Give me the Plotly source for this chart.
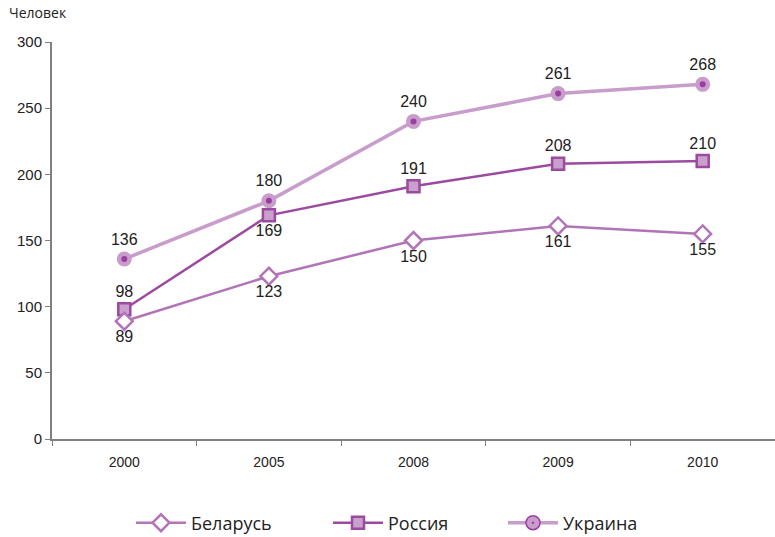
import plotly.graph_objects as go

years = ["2000", "2005", "2008", "2009", "2010"]
belarus = [89, 123, 150, 161, 155]
russia = [98, 169, 191, 208, 210]
ukraine = [136, 180, 240, 261, 268]
y_ticks = [0, 50, 100, 150, 200, 250, 300]

c_bel = "#B273B8"
c_rus = "#9C4AA0"
c_rus_fill = "#C9A0CC"
c_ukr = "#C89CCB"
c_ukr_dot = "#9B3F9F"

label_font = dict(family="Liberation Sans, Arial", size=16, color="#222222")

bel_marker = dict(symbol="diamond", size=13, color="white", line=dict(color=c_bel, width=2.5))
rus_marker = dict(symbol="square", size=12, color=c_rus_fill, line=dict(color=c_rus, width=2.5))
ukr_marker = dict(symbol="circle", size=15, color=c_ukr, line=dict(width=0))

fig = go.Figure()
fig.add_trace(go.Scatter(
    x=years, y=ukraine, name="Украина", mode="lines+markers+text", showlegend=False,
    line=dict(color=c_ukr, width=3.5), marker=ukr_marker,
    text=[str(v) for v in ukraine], textposition="top center",
    textfont=label_font, cliponaxis=False,
))
fig.add_trace(go.Scatter(
    x=years, y=ukraine, mode="markers", showlegend=False, hoverinfo="skip",
    marker=dict(symbol="circle", size=6, color=c_ukr_dot, line=dict(width=0)),
    cliponaxis=False,
))
fig.add_trace(go.Scatter(
    x=years, y=russia, name="Россия", mode="lines+markers+text", showlegend=False,
    line=dict(color=c_rus, width=2.5), marker=rus_marker,
    text=[str(v) for v in russia],
    textposition=["top center", "bottom center", "top center", "top center", "top center"],
    textfont=label_font, cliponaxis=False,
))
fig.add_trace(go.Scatter(
    x=years, y=belarus, name="Беларусь", mode="lines+markers+text", showlegend=False,
    line=dict(color=c_bel, width=2.5), marker=bel_marker,
    text=[str(v) for v in belarus], textposition="bottom center",
    textfont=label_font, cliponaxis=False,
))

# legend-only entries
fig.add_trace(go.Scatter(x=[years[0]], y=[None], name="Беларусь", mode="lines+markers",
                         line=dict(color=c_bel, width=2.5), marker=bel_marker, legend="legend"))
fig.add_trace(go.Scatter(x=[years[0]], y=[None], name="Россия", mode="lines+markers",
                         line=dict(color=c_rus, width=2.5), marker=rus_marker, legend="legend2"))
fig.add_trace(go.Scatter(x=[years[0]], y=[None], name="Украина", mode="lines+markers",
                         line=dict(color=c_ukr, width=3.5),
                         marker=dict(symbol="circle-dot", size=14, color=c_ukr,
                                     line=dict(color=c_ukr_dot, width=1.5)),
                         legend="legend3"))

leg_font = dict(family="Open Sans, Noto Sans", size=18, color="#222222")
def leg(x):
    return dict(orientation="h", xref="container", yref="container", x=x / 775,
                xanchor="left", y=14 / 537, yanchor="middle", font=leg_font,
                itemwidth=50, bgcolor="rgba(0,0,0,0)")

fig.update_layout(
    width=775, height=537,
    margin=dict(l=52, r=0, t=42, b=98, autoexpand=False),
    plot_bgcolor="white", paper_bgcolor="white",
    showlegend=True,
    legend=leg(131), legend2=leg(328), legend3=leg(503),
    xaxis=dict(type="category", showline=True, linecolor="#808080", linewidth=2,
               ticks="outside", ticklen=5, tickcolor="#808080", tickson="boundaries",
               showgrid=False, range=[-0.5, 4.5], automargin=False, ticklabelstandoff=9,
               tickfont=dict(family="Liberation Sans, Arial", size=14, color="#222222")),
    yaxis=dict(range=[0, 300], tickvals=y_ticks, showline=True, linecolor="#808080",
               linewidth=2, ticks="outside", ticklen=5, tickcolor="#808080",
               showgrid=False, zeroline=False, automargin=False,
               tickfont=dict(family="Liberation Sans, Arial", size=15, color="#222222")),
    annotations=[dict(text="Человек", xref="paper", yref="paper", x=-45/723, y=1.045,
                      xanchor="left", yanchor="bottom", showarrow=False,
                      font=dict(family="Open Sans, Noto Sans", size=14, color="#222222"))],
)
fig.write_html("out.html", config={"displayModeBar": False},
               post_script="document.body.style.margin='0';")
